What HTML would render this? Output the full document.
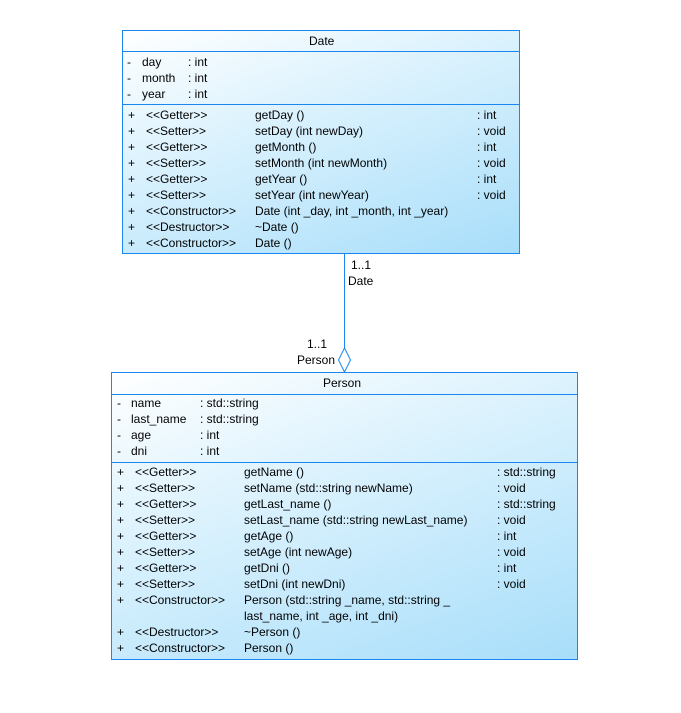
<!DOCTYPE html>
<html><head><meta charset="utf-8">
<style>
body{margin:0;background:#fff;width:681px;height:713px;position:relative;overflow:hidden;font-family:"Liberation Sans",sans-serif;font-size:12px;color:#000}
.box{position:absolute;border:1px solid #1a86f0;background:linear-gradient(160deg,#ffffff 0%,#d6f0fd 45%,#a8defa 100%);box-sizing:border-box}
.hl{position:absolute;left:0;right:0;height:1px;background:#1a86f0}
.t{position:absolute;white-space:nowrap;line-height:14px}
</style></head><body>

<!-- Date class -->
<div class="box" style="left:122px;top:30px;width:398px;height:224px">
  <div class="hl" style="top:20px"></div>
  <div class="hl" style="top:73px"></div>
</div>
<div class="t" style="left:309px;top:34px">Date</div>
<div class="t" style="left:127px;top:55px">-</div><div class="t" style="left:142px;top:55px">day</div><div class="t" style="left:188px;top:55px">: int</div>
<div class="t" style="left:127px;top:71px">-</div><div class="t" style="left:142px;top:71px">month</div><div class="t" style="left:188px;top:71px">: int</div>
<div class="t" style="left:127px;top:87px">-</div><div class="t" style="left:142px;top:87px">year</div><div class="t" style="left:188px;top:87px">: int</div>

<div class="t" style="left:128px;top:108px">+</div><div class="t" style="left:146px;top:108px">&lt;&lt;Getter&gt;&gt;</div><div class="t" style="left:255px;top:108px">getDay ()</div><div class="t" style="left:477px;top:108px">: int</div>
<div class="t" style="left:128px;top:124px">+</div><div class="t" style="left:146px;top:124px">&lt;&lt;Setter&gt;&gt;</div><div class="t" style="left:255px;top:124px">setDay (int newDay)</div><div class="t" style="left:477px;top:124px">: void</div>
<div class="t" style="left:128px;top:140px">+</div><div class="t" style="left:146px;top:140px">&lt;&lt;Getter&gt;&gt;</div><div class="t" style="left:255px;top:140px">getMonth ()</div><div class="t" style="left:477px;top:140px">: int</div>
<div class="t" style="left:128px;top:156px">+</div><div class="t" style="left:146px;top:156px">&lt;&lt;Setter&gt;&gt;</div><div class="t" style="left:255px;top:156px">setMonth (int newMonth)</div><div class="t" style="left:477px;top:156px">: void</div>
<div class="t" style="left:128px;top:172px">+</div><div class="t" style="left:146px;top:172px">&lt;&lt;Getter&gt;&gt;</div><div class="t" style="left:255px;top:172px">getYear ()</div><div class="t" style="left:477px;top:172px">: int</div>
<div class="t" style="left:128px;top:188px">+</div><div class="t" style="left:146px;top:188px">&lt;&lt;Setter&gt;&gt;</div><div class="t" style="left:255px;top:188px">setYear (int newYear)</div><div class="t" style="left:477px;top:188px">: void</div>
<div class="t" style="left:128px;top:204px">+</div><div class="t" style="left:146px;top:204px">&lt;&lt;Constructor&gt;&gt;</div><div class="t" style="left:255px;top:204px">Date (int _day, int _month, int _year)</div>
<div class="t" style="left:128px;top:220px">+</div><div class="t" style="left:146px;top:220px">&lt;&lt;Destructor&gt;&gt;</div><div class="t" style="left:255px;top:220px">~Date ()</div>
<div class="t" style="left:128px;top:236px">+</div><div class="t" style="left:146px;top:236px">&lt;&lt;Constructor&gt;&gt;</div><div class="t" style="left:255px;top:236px">Date ()</div>

<!-- Connector -->
<svg style="position:absolute;left:0;top:0" width="681" height="713">
  <line x1="344.5" y1="254" x2="344.5" y2="348" stroke="#1a86f0" stroke-width="1"/>
  <polygon points="344.5,348 350.5,360 344.5,372 338.5,360" fill="#fff" stroke="#1a86f0" stroke-width="1"/>
</svg>
<div class="t" style="left:351px;top:258px">1..1</div>
<div class="t" style="left:348px;top:274px">Date</div>
<div class="t" style="left:307px;top:337px">1..1</div>
<div class="t" style="left:297px;top:353px">Person</div>

<!-- Person class -->
<div class="box" style="left:111px;top:372px;width:467px;height:288px">
  <div class="hl" style="top:21px"></div>
  <div class="hl" style="top:89px"></div>
</div>
<div class="t" style="left:323px;top:376px">Person</div>
<div class="t" style="left:117px;top:396px">-</div><div class="t" style="left:131px;top:396px">name</div><div class="t" style="left:200px;top:396px">: std::string</div>
<div class="t" style="left:117px;top:412px">-</div><div class="t" style="left:131px;top:412px">last_name</div><div class="t" style="left:200px;top:412px">: std::string</div>
<div class="t" style="left:117px;top:428px">-</div><div class="t" style="left:131px;top:428px">age</div><div class="t" style="left:200px;top:428px">: int</div>
<div class="t" style="left:117px;top:444px">-</div><div class="t" style="left:131px;top:444px">dni</div><div class="t" style="left:200px;top:444px">: int</div>

<div class="t" style="left:117px;top:465px">+</div><div class="t" style="left:135px;top:465px">&lt;&lt;Getter&gt;&gt;</div><div class="t" style="left:244px;top:465px">getName ()</div><div class="t" style="left:497px;top:465px">: std::string</div>
<div class="t" style="left:117px;top:481px">+</div><div class="t" style="left:135px;top:481px">&lt;&lt;Setter&gt;&gt;</div><div class="t" style="left:244px;top:481px">setName (std::string newName)</div><div class="t" style="left:497px;top:481px">: void</div>
<div class="t" style="left:117px;top:497px">+</div><div class="t" style="left:135px;top:497px">&lt;&lt;Getter&gt;&gt;</div><div class="t" style="left:244px;top:497px">getLast_name ()</div><div class="t" style="left:497px;top:497px">: std::string</div>
<div class="t" style="left:117px;top:513px">+</div><div class="t" style="left:135px;top:513px">&lt;&lt;Setter&gt;&gt;</div><div class="t" style="left:244px;top:513px">setLast_name (std::string newLast_name)</div><div class="t" style="left:497px;top:513px">: void</div>
<div class="t" style="left:117px;top:529px">+</div><div class="t" style="left:135px;top:529px">&lt;&lt;Getter&gt;&gt;</div><div class="t" style="left:244px;top:529px">getAge ()</div><div class="t" style="left:497px;top:529px">: int</div>
<div class="t" style="left:117px;top:545px">+</div><div class="t" style="left:135px;top:545px">&lt;&lt;Setter&gt;&gt;</div><div class="t" style="left:244px;top:545px">setAge (int newAge)</div><div class="t" style="left:497px;top:545px">: void</div>
<div class="t" style="left:117px;top:561px">+</div><div class="t" style="left:135px;top:561px">&lt;&lt;Getter&gt;&gt;</div><div class="t" style="left:244px;top:561px">getDni ()</div><div class="t" style="left:497px;top:561px">: int</div>
<div class="t" style="left:117px;top:577px">+</div><div class="t" style="left:135px;top:577px">&lt;&lt;Setter&gt;&gt;</div><div class="t" style="left:244px;top:577px">setDni (int newDni)</div><div class="t" style="left:497px;top:577px">: void</div>
<div class="t" style="left:117px;top:593px">+</div><div class="t" style="left:135px;top:593px">&lt;&lt;Constructor&gt;&gt;</div><div class="t" style="left:244px;top:593px">Person (std::string _name, std::string _</div>
<div class="t" style="left:244px;top:609px">last_name, int _age, int _dni)</div>
<div class="t" style="left:117px;top:625px">+</div><div class="t" style="left:135px;top:625px">&lt;&lt;Destructor&gt;&gt;</div><div class="t" style="left:244px;top:625px">~Person ()</div>
<div class="t" style="left:117px;top:641px">+</div><div class="t" style="left:135px;top:641px">&lt;&lt;Constructor&gt;&gt;</div><div class="t" style="left:244px;top:641px">Person ()</div>

</body></html>
